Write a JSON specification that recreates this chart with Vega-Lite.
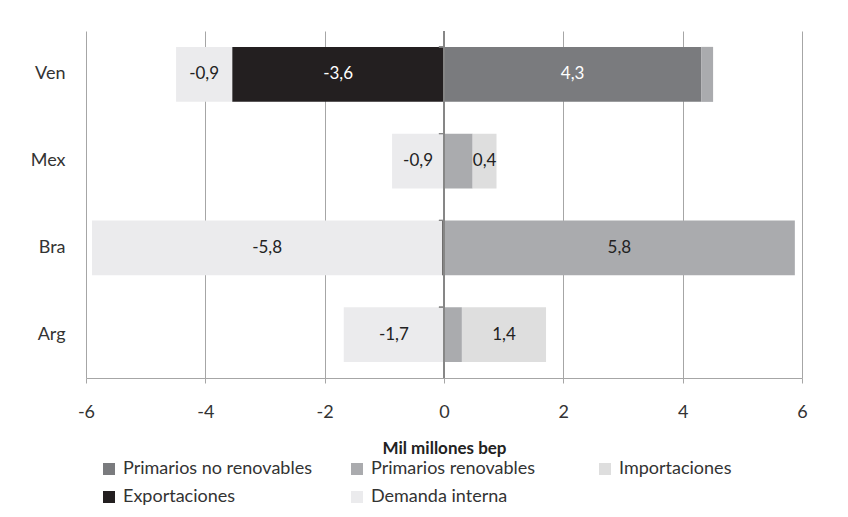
{
  "$schema": "https://vega.github.io/schema/vega-lite/v6.json",
  "width": 716,
  "height": 347,
  "autosize": {"type": "none"},
  "padding": {"left": 86, "top": 31, "right": 46, "bottom": 139},
  "background": "white",
  "config": {"font": "Lato", "view": {"stroke": null}},
  "data": {
    "values": [
      {"pais": "Ven", "tipo": "Primarios no renovables", "orden": 1, "valor": 4.31, "etiqueta": "4,3"},
      {"pais": "Ven", "tipo": "Primarios renovables", "orden": 2, "valor": 0.2, "etiqueta": ""},
      {"pais": "Ven", "tipo": "Exportaciones", "orden": 4, "valor": -3.55, "etiqueta": "-3,6"},
      {"pais": "Ven", "tipo": "Demanda interna", "orden": 5, "valor": -0.94, "etiqueta": "-0,9"},
      {"pais": "Mex", "tipo": "Primarios renovables", "orden": 2, "valor": 0.48, "etiqueta": ""},
      {"pais": "Mex", "tipo": "Importaciones", "orden": 3, "valor": 0.4, "etiqueta": "0,4"},
      {"pais": "Mex", "tipo": "Demanda interna", "orden": 5, "valor": -0.87, "etiqueta": "-0,9"},
      {"pais": "Bra", "tipo": "Primarios renovables", "orden": 2, "valor": 5.88, "etiqueta": "5,8"},
      {"pais": "Bra", "tipo": "Exportaciones", "orden": 4, "valor": -0.03, "etiqueta": ""},
      {"pais": "Bra", "tipo": "Demanda interna", "orden": 5, "valor": -5.87, "etiqueta": "-5,8"},
      {"pais": "Arg", "tipo": "Primarios renovables", "orden": 2, "valor": 0.3, "etiqueta": ""},
      {"pais": "Arg", "tipo": "Importaciones", "orden": 3, "valor": 1.41, "etiqueta": "1,4"},
      {"pais": "Arg", "tipo": "Demanda interna", "orden": 5, "valor": -1.68, "etiqueta": "-1,7"}
    ]
  },
  "layer": [
    {
      "mark": {"type": "bar"},
      "encoding": {
        "y": {
          "field": "pais", "type": "nominal", "sort": ["Ven", "Mex", "Bra", "Arg"],
          "scale": {"paddingInner": 0.366, "paddingOuter": 0.183},
          "axis": {"title": null, "domain": false, "ticks": false, "tickSize": 0, "labelPadding": 21, "labelFontSize": 18, "labelColor": "#333333", "labelFont": "Lato"}
        },
        "x": {
          "field": "valor", "type": "quantitative", "stack": "zero",
          "scale": {"domain": [-6, 6], "nice": false},
          "axis": {
            "values": [-6, -4, -2, 0, 2, 4, 6],
            "labelExpr": "'' + datum.value",
            "labelFlush": false,
            "grid": true, "gridColor": "#a6a6a6", "gridWidth": 1,
            "domainColor": "#a6a6a6", "tickColor": "#a6a6a6", "tickSize": 5,
            "labelFontSize": 18, "labelColor": "#333333", "labelPadding": 20, "labelFont": "Lato",
            "title": "Mil millones bep", "titleFontSize": 17, "titleFontWeight": "bold", "titleColor": "#222222",
            "titleFont": "Lato", "titleY": 70, "titleBaseline": "middle"
          }
        },
        "order": {"field": "orden", "type": "quantitative", "sort": "ascending"},
        "color": {
          "field": "tipo", "type": "nominal",
          "scale": {
            "domain": ["Primarios no renovables", "Primarios renovables", "Importaciones", "Exportaciones", "Demanda interna"],
            "range": ["#7a7b7e", "#aaabae", "#dedede", "#231f20", "#ebebed"]
          },
          "legend": {
            "orient": "none", "legendX": 14, "legendY": 429, "direction": "horizontal", "columns": 3,
            "gridAlign": "all", "columnPadding": 36, "rowPadding": 10, "title": null,
            "symbolType": "square", "symbolSize": 144, "symbolStrokeWidth": 0,
            "labelFont": "Lato", "labelFontSize": 18, "labelColor": "#333333", "labelOffset": 5, "labelLimit": 400
          }
        }
      }
    },
    {
      "mark": {"type": "text", "fontSize": 17, "font": "Lato", "align": "center", "baseline": "middle"},
      "encoding": {
        "y": {"field": "pais", "type": "nominal", "sort": ["Ven", "Mex", "Bra", "Arg"]},
        "x": {"field": "valor", "type": "quantitative", "stack": "zero", "bandPosition": 0.5},
        "order": {"field": "orden", "type": "quantitative", "sort": "ascending"},
        "detail": {"field": "tipo", "type": "nominal"},
        "text": {"field": "etiqueta"},
        "color": {
          "condition": {"test": "datum.tipo == 'Exportaciones' || datum.tipo == 'Primarios no renovables'", "value": "#ffffff"},
          "value": "#222222"
        }
      }
    },
    {
      "mark": {"type": "rule", "color": "#868686", "strokeWidth": 1},
      "encoding": {"x": {"datum": 0}}
    },
    {
      "mark": {"type": "rule", "color": "#868686", "strokeWidth": 1},
      "encoding": {
        "y": {"field": "pais", "type": "nominal", "sort": ["Ven", "Mex", "Bra", "Arg"], "bandPosition": 0},
        "x": {"datum": -0.085},
        "x2": {"datum": 0}
      }
    }
  ]
}
